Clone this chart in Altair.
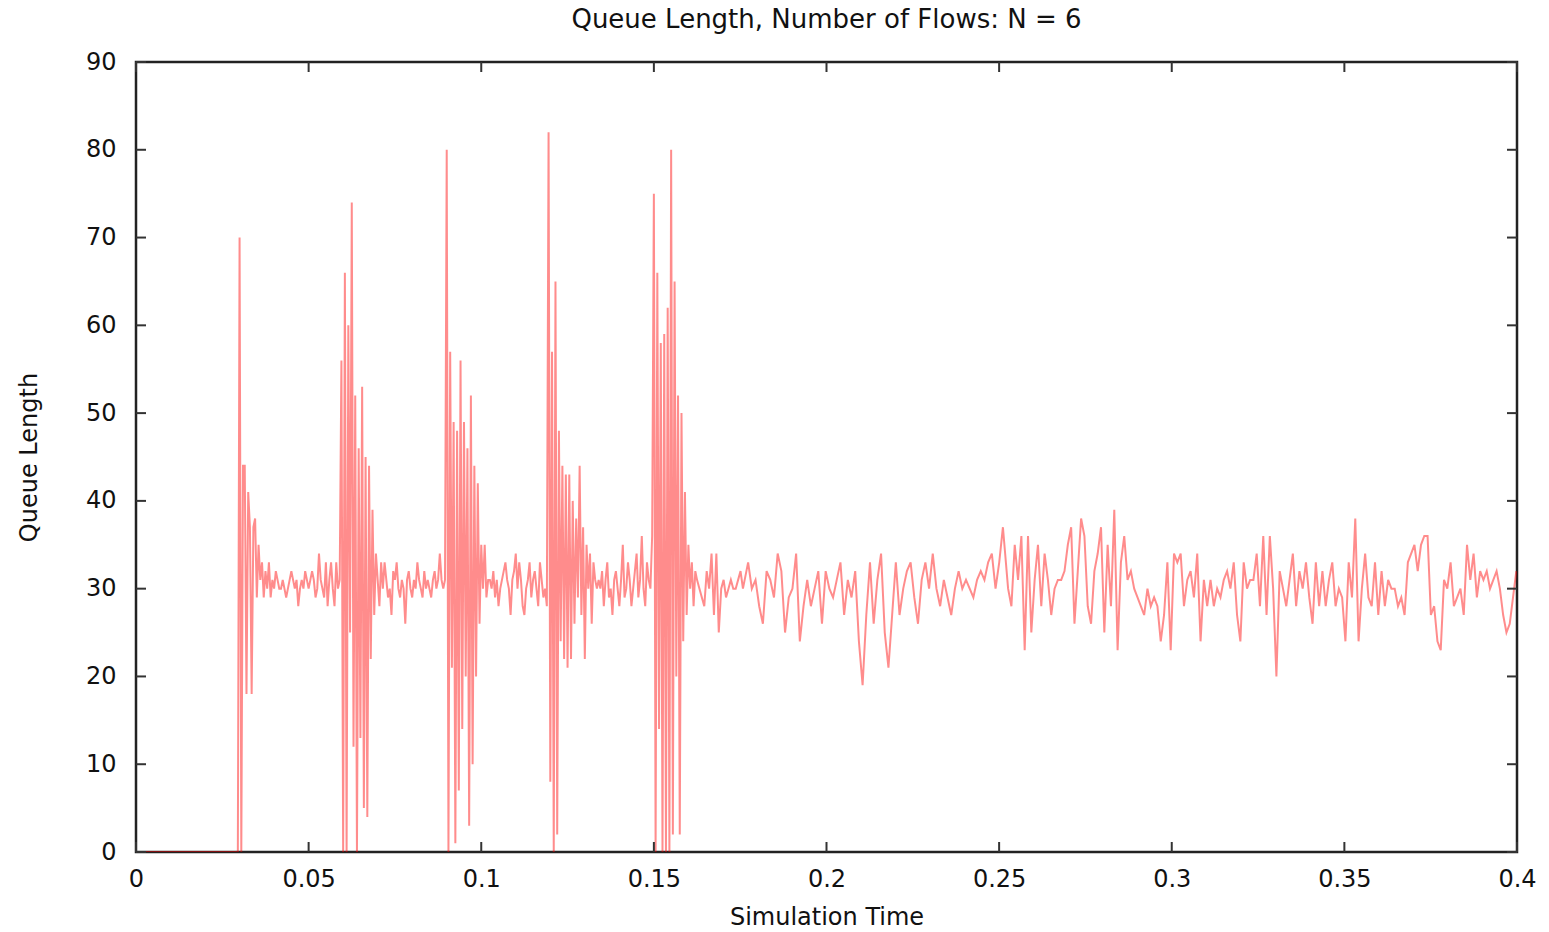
import altair as alt
import pandas as pd

TITLE = "Queue Length, Number of Flows: N = 6"
X_TITLE = "Simulation Time"
Y_TITLE = "Queue Length"
X_TICKS = [0, 0.05, 0.1, 0.15, 0.2, 0.25, 0.3, 0.35, 0.4]
Y_TICKS = [0, 10, 20, 30, 40, 50, 60, 70, 80, 90]

# queue length readings, each list spread evenly over its [start, end] time span
IDLE = [0, 0]
BURST1 = [70, 0, 44, 44, 18, 41, 37, 18, 37, 38, 29, 35, 31, 33, 29]
QUIET1 = [32, 30, 33, 29, 31, 30, 32, 31, 30, 30, 31, 30, 29, 30, 31, 32, 31, 30, 31, 28,
          30, 31, 30, 32, 31, 30, 31, 32, 31, 29, 30, 34, 31, 30, 29, 33, 28, 31, 33, 30,
          28, 33, 30, 31]
BURST2 = [56, 0, 66, 0, 60, 25, 74, 12, 52, 0, 46, 13, 53, 5, 45, 4, 44, 22, 39, 27,
          34, 31, 28, 33]
QUIET2 = [30, 33, 31, 29, 30, 27, 32, 31, 33, 30, 29, 31, 30, 26, 31, 32, 30, 29, 31, 30,
          33, 31, 30, 29, 32, 30, 31, 30, 29, 31, 32, 30, 31, 34, 31, 30]
BURST3 = [31, 80, 0, 57, 21, 49, 1, 48, 7, 56, 14, 49, 20, 46, 3, 52, 10, 44, 20, 42,
          26, 35, 30, 35, 29, 31]
QUIET3 = [31, 30, 32, 29, 31, 28, 30, 31, 32, 33, 31, 30, 27, 31, 32, 34, 30, 33, 31, 28,
          27, 30, 31, 33, 29, 31, 32, 30, 28, 33, 31, 29, 30, 28]
BURST4 = [82, 8, 57, 0, 65, 2, 48, 24, 44, 22, 43, 21, 43, 22, 40, 26, 38, 29, 44, 27,
          37, 22, 35, 30, 34, 26, 33, 31, 30]
QUIET4 = [31, 30, 32, 28, 31, 33, 29, 30, 27, 31, 32, 30, 28, 31, 35, 29, 30, 33, 31, 28,
          30, 32, 34, 29, 31, 36, 30, 28, 33, 31, 30]
BURST5 = [36, 75, 0, 66, 14, 58, 0, 59, 0, 62, 0, 80, 2, 65, 20, 52, 2, 50, 24, 41,
          27, 35, 30, 33, 28, 32]
TAIL_A = [31, 30, 29, 28, 32, 30, 34, 27, 34, 25, 30, 31, 29, 30, 31, 30, 30, 31, 32, 30]
TAIL_B = [33, 30, 31, 28, 26, 32, 31, 29, 34, 32, 25, 29, 30, 34, 24, 28, 31, 28, 30, 32,
          26, 32, 30, 29, 31, 33, 27, 31, 29, 32, 24, 19, 27, 33, 26, 31, 34, 25, 21, 27,
          33, 27, 30, 32, 33, 29, 26, 31, 33, 30, 34, 30, 28, 31, 29, 27, 30, 32, 30, 31,
          30, 29, 31, 32, 31, 33, 34, 30, 33, 37]
TAIL_C = [30, 28, 35, 31, 36, 23, 36, 25, 31, 35, 28, 34, 31, 27, 30, 31, 31, 32, 35, 37,
          26, 32, 38, 36, 28, 26, 32, 34, 37, 25, 35, 28, 39, 23, 33, 36, 31, 32, 30, 29,
          28, 27, 30, 28, 29, 28, 24, 27, 33, 23, 34, 33, 34, 28, 31, 32, 29, 34, 24, 31,
          28, 31, 28, 30, 29, 31, 32, 30, 33, 27, 24, 33, 30]
TAIL_D = [31, 31, 34, 28, 36, 27, 36, 30, 20, 32, 30, 28, 31, 34, 28, 32, 30, 33, 29, 26,
          33, 28, 32, 28, 31, 33, 28, 30, 29, 24, 33, 29, 38, 24, 30, 34, 29, 28, 33, 27,
          32, 28, 31, 30, 30, 28, 29, 27, 33, 34, 35, 32, 35, 36, 36, 27, 28, 24, 23, 31,
          30, 33, 28, 29, 30, 27, 35, 31, 34, 29, 32, 31, 32, 30, 31, 32, 30, 27, 25, 26,
          29, 32]

SEGMENTS = [
    (0.0, 0.0295, IDLE),
    (0.0300, 0.0370, BURST1),
    (0.0375, 0.0590, QUIET1),
    (0.0595, 0.0710, BURST2),
    (0.0715, 0.0890, QUIET2),
    (0.0895, 0.1020, BURST3),
    (0.1025, 0.1190, QUIET3),
    (0.1195, 0.1335, BURST4),
    (0.1340, 0.1490, QUIET4),
    (0.1495, 0.1620, BURST5),
    (0.1625, 0.1758, TAIL_A),
    (0.1773, 0.2511, TAIL_B),
    (0.2526, 0.3218, TAIL_C),
    (0.3227, 0.3998, TAIL_D),
]

rows = []
for start, end, vals in SEGMENTS:
    n = len(vals)
    for i, v in enumerate(vals):
        t = start + (end - start) * i / (n - 1)
        rows.append({"t": t, "q": v})
df = pd.DataFrame(rows)

W, H = 1381, 790
FONT = "DejaVu Sans"
FS = 24
TICK = 10

x_scale = alt.Scale(domain=[0, 0.4], nice=False, zero=False)
y_scale = alt.Scale(domain=[0, 90], nice=False)

x_axis = alt.Axis(values=X_TICKS, format="~g", title=X_TITLE, ticks=False, domain=False,
                  grid=False, labelFont=FONT, labelFontSize=FS, labelColor="#111",
                  labelPadding=15, titleFont=FONT, titleFontSize=FS, titleFontWeight="normal",
                  titleColor="#111", titlePadding=14, labelFlush=False)
y_axis = alt.Axis(values=Y_TICKS, title=Y_TITLE, ticks=False, domain=False, grid=False,
                  labelFont=FONT, labelFontSize=FS, labelColor="#111", labelPadding=20,
                  titleFont=FONT, titleFontSize=FS, titleFontWeight="normal",
                  titleColor="#111", titlePadding=44, labelFlush=False)

X = alt.X("t:Q", scale=x_scale, axis=x_axis)
Y = alt.Y("q:Q", scale=y_scale, axis=y_axis)

line = alt.Chart(df).mark_line(color="#ff0000", strokeWidth=2, strokeOpacity=0.45,
                               clip=True).encode(x=X, y=Y)

xt = pd.DataFrame({"t": X_TICKS})
yt = pd.DataFrame({"q": Y_TICKS})
rule_style = dict(color="#333333", strokeWidth=2)
xb = alt.Chart(xt).mark_rule(**rule_style).encode(x=X, y=alt.value(H), y2=alt.value(H - TICK))
xtop = alt.Chart(xt).mark_rule(**rule_style).encode(x=X, y=alt.value(0), y2=alt.value(TICK))
yl = alt.Chart(yt).mark_rule(**rule_style).encode(y=Y, x=alt.value(0), x2=alt.value(TICK))
yr = alt.Chart(yt).mark_rule(**rule_style).encode(y=Y, x=alt.value(W), x2=alt.value(W - TICK))

chart = alt.layer(line, xb, xtop, yl, yr).properties(
    width=W, height=H,
    title=alt.TitleParams(TITLE, font=FONT, fontSize=26, fontWeight="normal",
                          color="#111", anchor="middle", offset=17),
    autosize="none",
    padding={"left": 136, "top": 62, "right": 32, "bottom": 80},
).configure(
    background="white",
    view=alt.ViewConfig(stroke="#222222", strokeWidth=2.5),
)

chart.save("out.html", embed_options={"renderer": "svg", "actions": False})
